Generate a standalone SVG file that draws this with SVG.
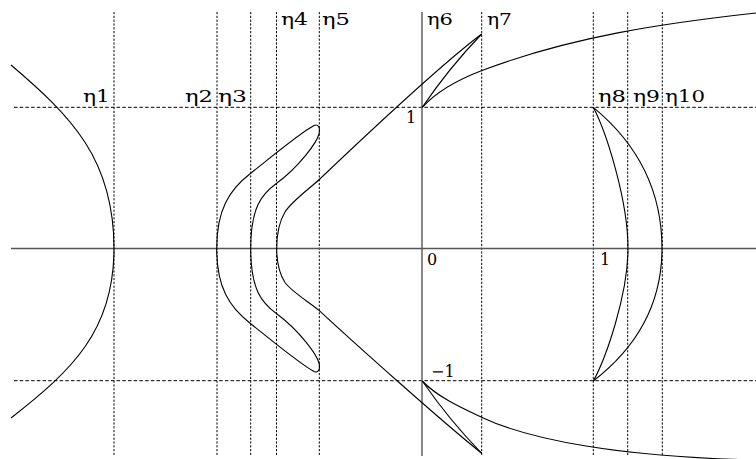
<svg xmlns="http://www.w3.org/2000/svg" width="756" height="459" viewBox="0 0 756 459">
<style>
.vg{stroke:#000;stroke-width:1;stroke-dasharray:2.2,1.6;fill:none}
.hg{stroke:#000;stroke-width:1;stroke-dasharray:3.5,2.2;fill:none}
.ax{stroke:#555;stroke-width:1.4;fill:none}
.cv{stroke:#000;stroke-width:1.1;fill:none}
.eta{font-family:"DejaVu Serif","Liberation Serif",serif;font-size:17px;fill:#000}
.num{font-family:"DejaVu Serif","Liberation Serif",serif;font-size:16px;fill:#000}
</style>
<rect width="756" height="459" fill="#fff"/>
<g id="grid">
<line class="vg" x1="114" y1="12" x2="114" y2="456"/>
<line class="vg" x1="217" y1="12" x2="217" y2="456"/>
<line class="vg" x1="250.7" y1="12" x2="250.7" y2="456"/>
<line class="vg" x1="276.5" y1="12" x2="276.5" y2="456"/>
<line class="vg" x1="319.3" y1="12" x2="319.3" y2="456"/>
<line class="vg" x1="481.7" y1="12" x2="481.7" y2="456"/>
<line class="vg" x1="593.3" y1="12" x2="593.3" y2="456"/>
<line class="vg" x1="627.7" y1="12" x2="627.7" y2="456"/>
<line class="vg" x1="662.3" y1="12" x2="662.3" y2="456"/>
<line class="hg" x1="14" y1="107.3" x2="756" y2="107.3"/>
<line class="hg" x1="14" y1="380.7" x2="756" y2="380.7"/>
</g>
<g id="axes">
<line class="ax" x1="11" y1="248.5" x2="756" y2="248.5"/>
<line class="ax" x1="422" y1="12" x2="422" y2="456"/>
</g>
<g id="curves">
<path id="c-eta1" class="cv" d="M11,65 C71,116 114,159 114,248.5 C114,331.6 71,371 11,418"/>
<path id="c-eta23" class="cv" d="M216.7,248.5 C216.7,210 229,190 250.7,173.3 C275,154 300,133 314,125.5 C318.5,123.5 320.5,128 319,134 C317,142 300,166 276.7,183.3 C262,194 250.7,207 250.7,248.5 C250.7,290 262,303 276.7,313.7 C300,331 317,355 319,363 C320.5,369 318.5,373.5 314,371.5 C300,364 275,343 250.7,323.7 C229,307 216.7,287 216.7,248.5 Z"/>
<path id="c-eta4" class="cv" d="M481.7,34 C441.7,64 355.5,145.05 319.3,179.5 C309,189 292,201 285,212 C279,222 276.7,235 276.7,248.5 C276.7,262 279,273 285,282.5 C292,292 309,302 319.3,310.6 C355.5,344.1 441.7,421.3 481.7,453.3"/>
<path id="c-eta6-up" class="cv" d="M422.3,107.3 Q448.9,68.1 481.7,34"/>
<path id="c-eta6-dn" class="cv" d="M422.3,381 Q448.9,419.7 481.7,453.3"/>
<path id="c-eta7-up" class="cv" d="M422.3,107.3 C437.3,90.8 462,78.1 482,70.5 C572,36.3 666,22.9 756,13"/>
<path id="c-eta7-dn" class="cv" d="M422.3,381 C437.3,397 462,408.1 482,417.5 C530,440 620,457 756,460"/>
<path id="c-eta9" class="cv" d="M593.3,107.3 C606.3,132.3 628,200 628,248.5 C628,294 606.3,357.5 593.3,381"/>
<path id="c-eta10" class="cv" d="M593.3,107.3 C633,140 662,185 662,248.5 C662,308.1 633,350.3 593.3,381"/>
</g>
<g id="labels">
<text class="eta" x="83" y="102" textLength="27" lengthAdjust="spacingAndGlyphs">η1</text>
<text class="eta" x="185" y="102" textLength="28" lengthAdjust="spacingAndGlyphs">η2</text>
<text class="eta" x="218" y="102" textLength="29" lengthAdjust="spacingAndGlyphs">η3</text>
<text class="eta" x="281" y="25" textLength="27" lengthAdjust="spacingAndGlyphs">η4</text>
<text class="eta" x="322" y="25" textLength="28" lengthAdjust="spacingAndGlyphs">η5</text>
<text class="eta" x="427" y="25" textLength="26" lengthAdjust="spacingAndGlyphs">η6</text>
<text class="eta" x="487" y="25" textLength="25" lengthAdjust="spacingAndGlyphs">η7</text>
<text class="eta" x="598" y="102" textLength="28" lengthAdjust="spacingAndGlyphs">η8</text>
<text class="eta" x="633" y="102" textLength="27" lengthAdjust="spacingAndGlyphs">η9</text>
<text class="eta" x="665" y="102" textLength="40" lengthAdjust="spacingAndGlyphs">η10</text>
<text class="num" x="406" y="123">1</text>
<text class="num" x="427" y="265">0</text>
<text class="num" x="600" y="265">1</text>
<text class="num" x="431" y="377">−1</text>
</g>
</svg>
